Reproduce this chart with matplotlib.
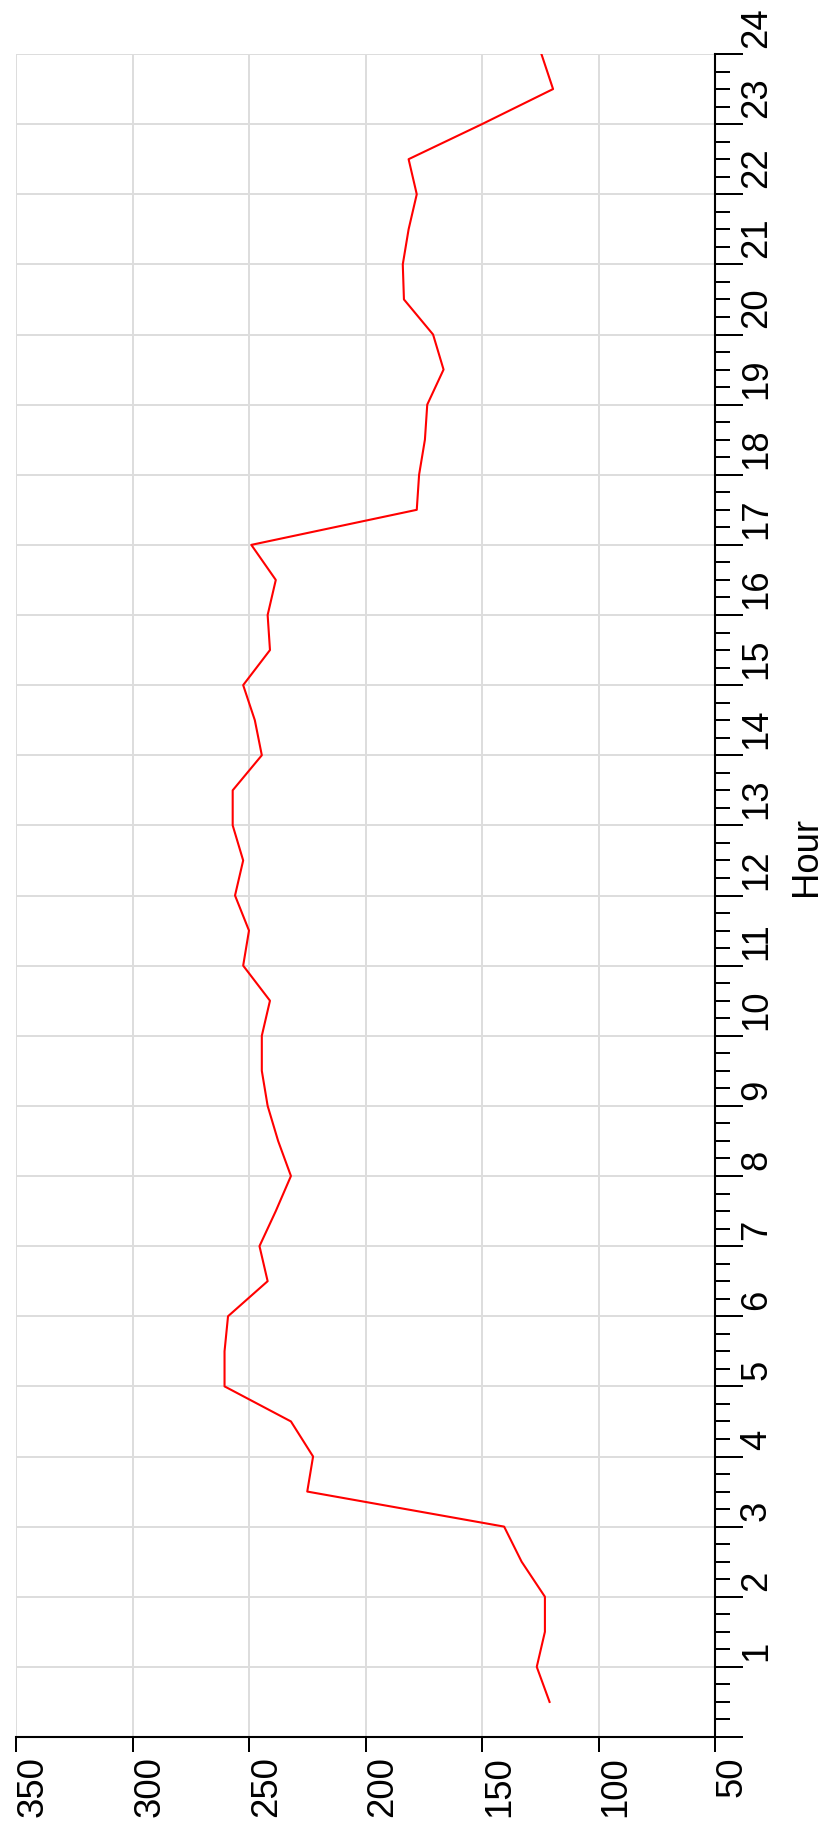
import matplotlib
matplotlib.use('Agg')
import matplotlib.pyplot as plt
import matplotlib.transforms as mtransforms
from matplotlib.ticker import MultipleLocator

#
# 数据: 每半小时的值
#
hours = [0.5, 1.0, 1.5, 2.0, 2.5, 3.0, 3.5, 4.0, 4.5, 5.0, 5.5, 6.0,
         6.5, 7.0, 7.5, 8.0, 8.5, 9.0, 9.5, 10.0, 10.5, 11.0, 11.5, 12.0,
         12.5, 13.0, 13.5, 14.0, 14.5, 15.0, 15.5, 16.0, 16.5, 17.0, 17.5, 18.0,
         18.5, 19.0, 19.5, 20.0, 20.5, 21.0, 21.5, 22.0, 22.5, 23.0, 23.5, 24.0]
values = [121, 126.5, 123, 123, 133, 140.5, 225, 222.5, 232, 260.5, 260.5, 259,
          242, 245.5, 238.5, 232, 237.5, 242, 244.5, 244.5, 241, 252.5, 250, 256,
          252.5, 257, 257, 244.5, 247.5, 252.5, 241, 242, 238.5, 249, 178, 177,
          174.5, 173.5, 166.5, 171, 183.5, 184, 181.5, 178, 181.5, 150, 119.5, 124.5]

value_ticks = [50, 100, 150, 200, 250, 300, 350]
hour_ticks = list(range(25))
# 0 点没有标签
hour_labels = [''] + [str(h) for h in range(1, 25)]
axis_title = "Hour"

FONT = 'Liberation Sans'
FS = 26.3
W, H = 821, 1827

plt.rcParams['font.family'] = [FONT, 'DejaVu Sans']

fig = plt.figure(figsize=(W / 100, H / 100), dpi=100)
# 坐标区域(像素): 左 16, 右 715, 上 54, 下 1737
ax = fig.add_axes([16 / W, (H - 1737) / H, (715 - 16) / W, (1737 - 54) / H])

# 图是竖着放的: 数值在横轴 (反向), 小时在纵轴
ax.plot(values, hours, color='#ff0000', lw=1.5, zorder=3)

ax.set_xlim(350, 50)
ax.set_ylim(0, 24)
ax.set_xticks(value_ticks)
ax.set_xticklabels([str(v) for v in value_ticks])
ax.set_yticks(hour_ticks)
ax.set_yticklabels(hour_labels)
ax.yaxis.set_minor_locator(MultipleLocator(0.25))
ax.yaxis.tick_right()

ax.set_axisbelow(True)
ax.grid(True, which='major', color='#dddddd', lw=1.4)

for side in ['left', 'top']:
    ax.spines[side].set_visible(False)
for side in ['right', 'bottom']:
    ax.spines[side].set_linewidth(1.5)
    ax.spines[side].set_color('black')

ax.tick_params(axis='x', which='major', length=10.8, width=1.44, pad=3.2,
               labelsize=FS, labelrotation=90, top=False)
ax.tick_params(axis='y', which='major', length=20.2, width=1.44, pad=-2.9,
               labelsize=FS, labelrotation=90, left=False, right=True)
ax.tick_params(axis='y', which='minor', length=10.8, width=1.44,
               left=False, right=True)

for lab in ax.get_xticklabels():
    lab.set_ha('left')
    lab.set_va('top')

# 小时标签放在刻度上方一点
shift = mtransforms.ScaledTranslation(0, 0.06, fig.dpi_scale_trans)
for lab in ax.get_yticklabels():
    lab.set_ha('left')
    lab.set_va('bottom')
    lab.set_transform(lab.get_transform() + shift)

ax.yaxis.set_label_position('right')
ax.set_ylabel(axis_title, fontsize=FS)
ax.yaxis.label.set_rotation(90)
ax.yaxis.label.set_rotation_mode('anchor')
ax.yaxis.label.set_ha('left')
ax.yaxis.label.set_va('top')
ax.yaxis.set_label_coords((789 - 16) / (715 - 16), 0.5)

fig.savefig('out.png', dpi=100, facecolor='white')
